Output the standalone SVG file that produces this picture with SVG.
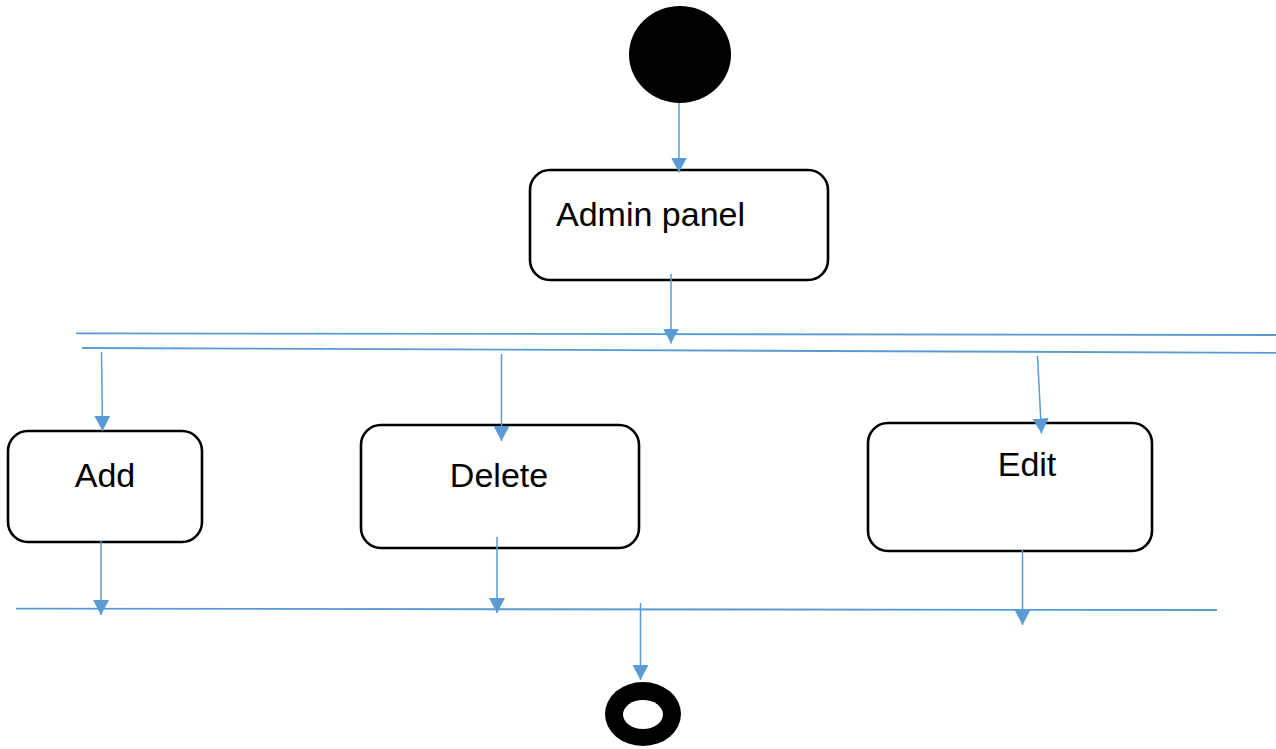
<svg xmlns="http://www.w3.org/2000/svg" width="1276" height="749" viewBox="0 0 1276 749">
  <defs>
    <marker id="arrow" markerUnits="userSpaceOnUse" markerWidth="17" markerHeight="17" refX="15" refY="8" orient="auto">
      <path d="M0,0 L15,8 L0,16 Z" fill="#5B9BD5"/>
    </marker>
    <style>
      .box { fill: #ffffff; stroke: #000000; stroke-width: 2.6; }
      .label { font-family: "Liberation Sans", Arial, sans-serif; font-size: 34px; fill: #000000; }
      .flow { stroke: #5B9BD5; stroke-width: 1.5; fill: none; marker-end: url(#arrow); }
      .bar { stroke: #5B9BD5; stroke-width: 1.8; fill: none; }
    </style>
  </defs>

  <rect width="1276" height="749" fill="#ffffff"/>

  <!-- start node -->
  <g id="start">
    <ellipse cx="680" cy="54.5" rx="51" ry="48.5" fill="#000000"/>
  </g>

  <!-- actions -->
  <g id="admin-panel">
    <rect class="box" x="530" y="170" width="298" height="110" rx="20"/>
    <text class="label" x="556" y="226">Admin panel</text>
  </g>
  <g id="add">
    <rect class="box" x="8" y="431" width="194" height="111" rx="20"/>
    <text class="label" x="105" y="487" text-anchor="middle">Add</text>
  </g>
  <g id="delete">
    <rect class="box" x="361" y="425" width="278" height="123" rx="20"/>
    <text class="label" x="499" y="487" text-anchor="middle">Delete</text>
  </g>
  <g id="edit">
    <rect class="box" x="868" y="423" width="284" height="128" rx="20"/>
    <text class="label" x="1027" y="476" text-anchor="middle">Edit</text>
  </g>

  <!-- end node -->
  <g id="end">
    <ellipse cx="643" cy="714" rx="38" ry="32" fill="#000000"/>
    <ellipse cx="643" cy="714.5" rx="20" ry="14.5" fill="#ffffff"/>
  </g>

  <!-- fork / join bars and flows -->
  <g id="connectors">
    <line class="bar" x1="76" y1="333.3" x2="1276" y2="335"/>
    <line class="bar" x1="82" y1="348" x2="1276" y2="352.8"/>
    <line class="bar" x1="16" y1="608.7" x2="1217" y2="610"/>

    <line class="flow" x1="679" y1="103" x2="679" y2="172.5"/>
    <line class="flow" x1="671" y1="274" x2="671" y2="343.5"/>
    <line class="flow" x1="101.5" y1="352" x2="102.5" y2="431"/>
    <line class="flow" x1="501.5" y1="354" x2="501.5" y2="441"/>
    <line class="flow" x1="1037.5" y1="356" x2="1041.5" y2="433.5"/>
    <line class="flow" x1="101" y1="541" x2="101" y2="615"/>
    <line class="flow" x1="497" y1="537" x2="497" y2="613"/>
    <line class="flow" x1="1022.5" y1="549" x2="1022.5" y2="625"/>
    <line class="flow" x1="640.5" y1="603" x2="640.5" y2="680"/>
  </g>
</svg>
